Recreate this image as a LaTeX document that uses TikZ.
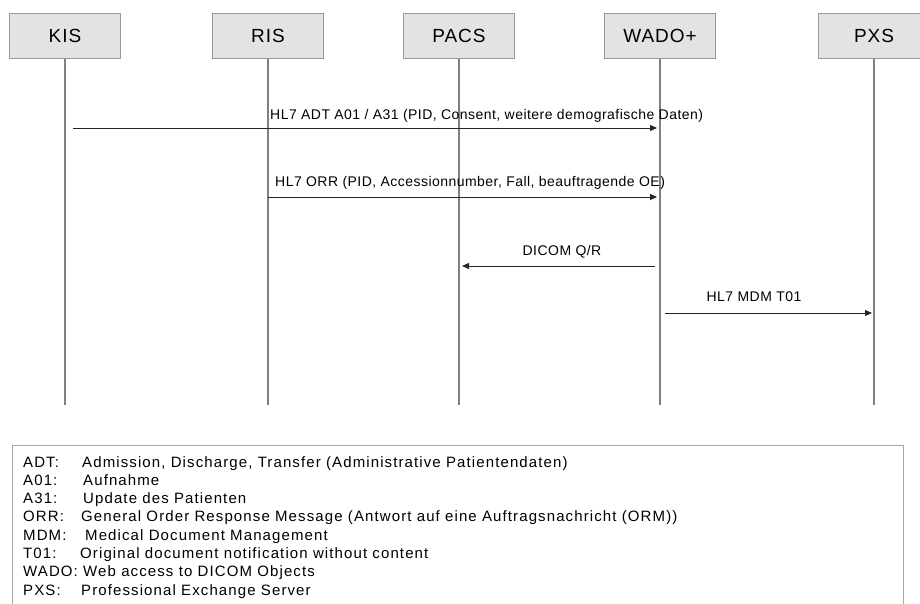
\documentclass[tikz,border=0pt]{standalone}
\usepackage{fontspec}
\setmainfont{Liberation Sans}
\newfontfamily\boxfont[LetterSpace=5]{Liberation Sans}
\newfontfamily\lblfont[LetterSpace=3.3]{Liberation Sans}
\newfontfamily\legfont[LetterSpace=7.4]{Liberation Sans}
\usetikzlibrary{arrows.meta}
\begin{document}
\begin{tikzpicture}[x=1pt,y=-1pt,
  actor/.style={draw=gray!80,line width=0.8pt,fill=gray!22,minimum width=111pt,minimum height=45pt,inner sep=0pt,font=\boxfont\fontsize{19}{22}\selectfont},
  life/.style={draw=gray,line width=2pt},
  msg/.style={draw=black!85,line width=0.8pt,-{Triangle[length=7pt,width=6pt]}},
  lbl/.style={font=\lblfont\fontsize{14}{16}\selectfont,inner sep=0pt},
  leg/.style={font=\legfont\fontsize{15}{17}\selectfont,inner sep=0pt,anchor=base west}]
\useasboundingbox (0,0) rectangle (920,604);
\node[actor] (kis) at (65,36) {KIS};
\node[actor] (ris) at (268,36) {RIS};
\node[actor] (pacs) at (459,36) {PACS};
\node[actor] (wado) at (660,36) {WADO+};
\node[actor] (pxs) at (874,36) {PXS};
\foreach \n/\x in {kis/65,ris/268,pacs/459,wado/660,pxs/874}{
  \coordinate (\n-end) at (\x,405);
  \draw[life] (\n.south) -- (\n-end);
}
% messages
\coordinate (m1s) at (73,128);
\coordinate (m1e) at (657,128);
\draw[msg] (m1s) -- (m1e);
\node[lbl,anchor=west] (l1) at (270,116) {HL7 ADT A01 / A31 (PID, Consent, weitere demografische Daten)};
\coordinate (m2s) at (268,197);
\coordinate (m2e) at (657,197);
\draw[msg] (m2s) -- (m2e);
\node[lbl,anchor=west] (l2) at (275,183) {HL7 ORR (PID, Accessionnumber, Fall, beauftragende OE)};
\coordinate (m3s) at (655,266);
\coordinate (m3e) at (462,266);
\draw[msg] (m3s) -- (m3e);
\node[lbl] (l3) at (562,252) {DICOM Q/R};
\coordinate (m4s) at (665,313);
\coordinate (m4e) at (872,313);
\draw[msg] (m4s) -- (m4e);
\node[lbl] (l4) at (754,297) {HL7 MDM T01};
% legend
\draw[gray!70,line width=1pt] (12,612) -- (12,445) -- (903,445) -- (903,612);
\foreach \k/\d/\xo [count=\i from 0] in {ADT:/{Admission, Discharge, Transfer (Administrative Patientendaten)}/82,
  A01:/Aufnahme/83,
  A31:/Update des Patienten/83,
  ORR:/{General Order Response Message (Antwort auf eine Auftragsnachricht (ORM))}/81,
  MDM:/Medical Document Management/85,
  T01:/Original document notification without content/80}{
  \node[leg] (k\i) at (23,467+18.3*\i) {\k};
  \node[leg] (d\i) at (\xo,467+18.3*\i) {\d};
}
\node[leg] (k6) at (23,467+18.3*6) {WADO: Web access to DICOM Objects};
\node[leg] (k7) at (23,467+18.3*7) {PXS:};
\node[leg] (d7) at (81,467+18.3*7) {Professional Exchange Server};
\end{tikzpicture}
\end{document}
